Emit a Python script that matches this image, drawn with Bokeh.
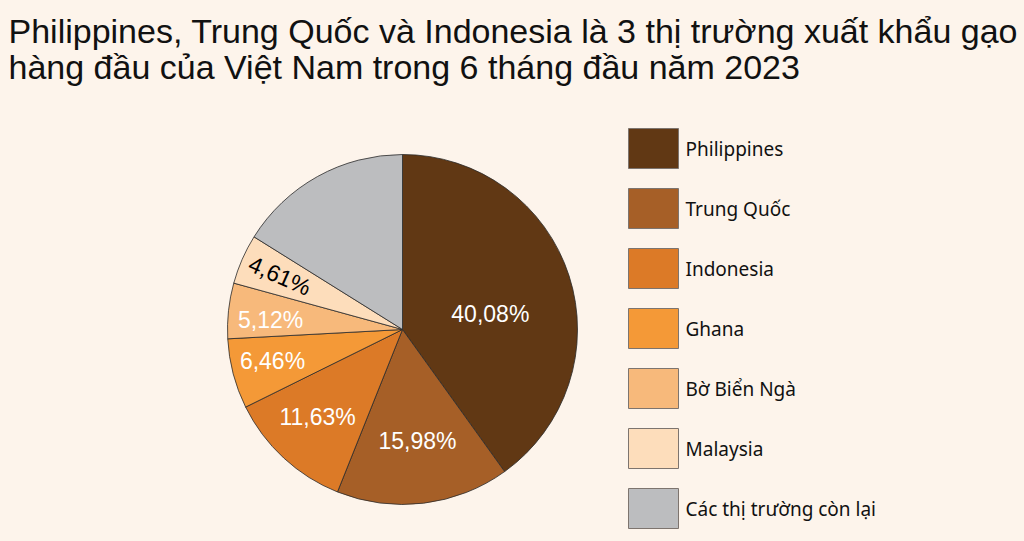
import math
from bokeh.plotting import figure
from bokeh.models import Range1d
from bokeh.core.properties import value
from bokeh.embed import file_html
from bokeh.resources import INLINE

# ---- data ----
title_lines = ["Philippines, Trung Quốc và Indonesia là 3 thị trường xuất khẩu gạo",
               "hàng đầu của Việt Nam trong 6 tháng đầu năm 2023"]
markets = ["Philippines", "Trung Quốc", "Indonesia", "Ghana", "Bờ Biển Ngà", "Malaysia", "Các thị trường còn lại"]
shares = [40.08, 15.98, 11.63, 6.46, 5.12, 4.61, 16.12]
labels = ["40,08%", "15,98%", "11,63%", "6,46%", "5,12%", "4,61%", ""]

# ---- style ----
colors = ["#613814", "#A65F27", "#DC7A27", "#F49937", "#F7B97B", "#FDDDBB", "#BCBDBF"]
label_colors = ["white", "white", "white", "white", "white", "black", "white"]
label_r = [0.51, 0.645, 0.695, 0.765, 0.755, 0.765, 0.6]
label_shift = [-7.6, 0.7, -1.5, -0.9, 2.2, 0.0, 0.0]
label_rotate = [False, False, False, False, False, True, False]
BG = "#FDF4EB"
W, H = 1024, 541

def fx(X):
    return X

def fy(Y):
    return H - Y

p = figure(width=W, height=H, x_range=Range1d(0, W), y_range=Range1d(0, H),
           output_backend="svg", toolbar_location=None, min_border=0)
p.background_fill_color = BG
p.border_fill_color = BG
p.outline_line_color = None
p.axis.visible = False
p.grid.visible = False

# title
p.text(x=[fx(8), fx(8)], y=[fy(30), fy(66)], text=title_lines,
       text_font=value("Liberation Sans"), text_font_size="34px",
       text_color="#111111", text_baseline="alphabetic", text_align="left")

# pie
cx, cy, R = fx(402), fy(329), 175
total = sum(shares)
starts, ends, mids = [], [], []
cum = 0.0
for s in shares:
    a0 = math.pi / 2 - 2 * math.pi * cum / total
    cum += s
    a1 = math.pi / 2 - 2 * math.pi * cum / total
    starts.append(a0)
    ends.append(a1)
    mids.append((a0 + a1) / 2)

p.wedge(x=[cx] * len(shares), y=[cy] * len(shares), radius=R,
        start_angle=starts, end_angle=ends, direction="clock",
        fill_color=colors, line_color="#2a2a2a", line_width=0.8)

lx, ly, lt, lc, la = [], [], [], [], []
for i, lab in enumerate(labels):
    if not lab:
        continue
    ang = mids[i] + math.radians(label_shift[i])
    lx.append(cx + label_r[i] * R * math.cos(ang))
    ly.append(cy + label_r[i] * R * math.sin(ang))
    lt.append(lab)
    lc.append(label_colors[i])
    la.append(ang - math.pi if label_rotate[i] else 0.0)

p.text(x=lx, y=ly, text=lt, angle=la, text_color=lc,
       text_font=value("Liberation Sans"), text_font_size="23px",
       text_align="center", text_baseline="middle")

# legend
bx = [fx(653)] * len(markets)
by = [fy(148 + 60 * i) for i in range(len(markets))]
p.rect(x=bx, y=by, width=50, height=40, fill_color=colors,
       line_color="#7d746e", line_width=1)
p.text(x=[fx(685)] * len(markets), y=by, text=markets,
       text_font=value("Noto Sans"), text_font_size="19px", text_color="#111111",
       text_align="left", text_baseline="middle")

html = file_html(p, INLINE)
html = html.replace("<head>", "<head><style>html,body{margin:0;padding:0;overflow:hidden;background:%s;}</style>" % BG, 1)
open("out.html", "w").write(html)
